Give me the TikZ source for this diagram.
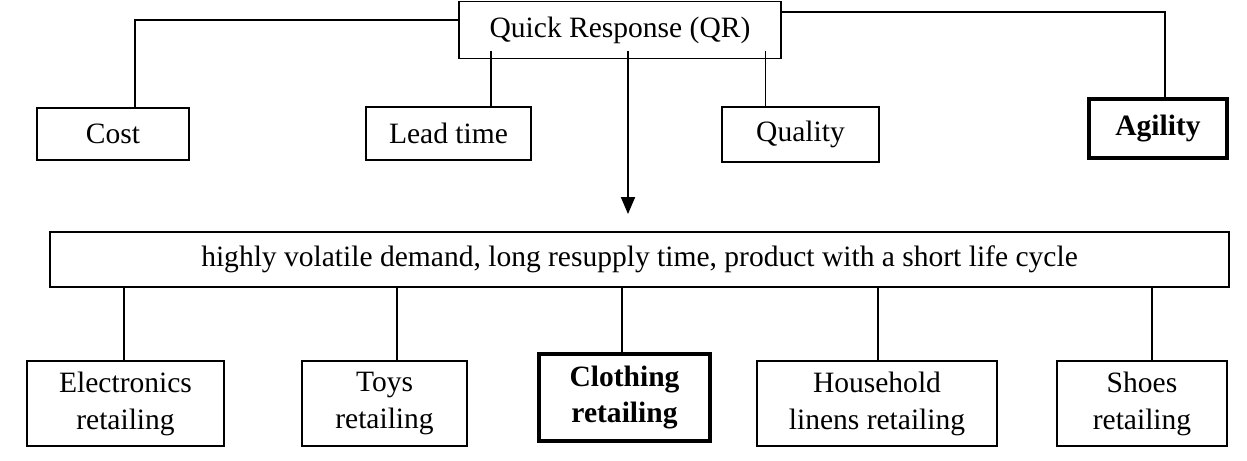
\documentclass[tikz,border=0pt]{standalone}
\usepackage{fontspec}
\setmainfont{Liberation Serif}
\usetikzlibrary{arrows.meta,positioning}

\begin{document}
\begin{tikzpicture}[
    box/.style={draw,line width=1.1pt,align=center,inner sep=2pt,
      font=\fontsize{16.8}{21}\selectfont},
    keybox/.style={box,line width=2.4pt,font=\fontsize{16.8}{21}\selectfont\bfseries},
    link/.style={line width=1.1pt},
    arrow/.style={link,-{Triangle[length=0.34cm,width=0.28cm]},shorten >=0.34cm}
  ]
  \useasboundingbox (0,0) rectangle (24.94,-9.22);

  % Quick Response and its factors
  \node[box,minimum width=6.44cm,minimum height=1.14cm] (qr) at (12.4,-0.6) {Quick Response (QR)};
  \node[box,minimum width=3.04cm,minimum height=1.04cm] (cost) at (2.26,-2.68) {Cost};
  \node[box,minimum width=3.3cm,minimum height=1.06cm] (lead) at (8.97,-2.67) {Lead time};
  \node[box,minimum width=3.14cm,minimum height=1.1cm] (quality) at (16.01,-2.69) {Quality};
  \node[keybox,minimum width=2.76cm,minimum height=1.18cm] (agility) at (23.16,-2.57) {Agility};

  % Conditions
  \node[box,minimum width=23.58cm,minimum height=1.1cm] (cond) at (12.79,-5.19)
    {highly volatile demand, long resupply time, product with a short life cycle};

  % Retailing sectors
  \node[box,minimum width=3.94cm,minimum height=1.7cm] (elec) at (2.51,-8.07) {Electronics\\retailing};
  \node[box,minimum width=3.3cm,minimum height=1.7cm] (toys) at (7.69,-8.07) {Toys\\retailing};
  \node[keybox,minimum width=3.42cm,minimum height=1.74cm] (cloth) at (12.49,-7.95) {Clothing\\retailing};
  \node[box,minimum width=4.8cm,minimum height=1.7cm] (house) at (17.54,-8.07) {Household\\linens retailing};
  \node[box,minimum width=3.4cm,minimum height=1.7cm] (shoes) at (22.84,-8.07) {Shoes\\retailing};

  % QR to factors
  \draw[link] ([yshift=0.2cm]qr.west) -| ([xshift=0.44cm]cost.north);
  \draw[link] ([yshift=0.36cm]qr.east) -| ([xshift=0.14cm]agility.north);
  \draw[link] ([xshift=0.85cm]lead.north) -- ([xshift=0.85cm,yshift=0.16cm]lead.north |- qr.south);
  \draw[link] ([xshift=-0.7cm]quality.north) -- ([xshift=-0.7cm,yshift=0.16cm]quality.north |- qr.south);

  % QR to conditions
  \draw[arrow] ([xshift=0.16cm,yshift=0.16cm]qr.south) -- ([xshift=0.16cm]qr.south |- cond.north);

  % conditions to sectors
  \foreach \n/\dx in {elec/-0.03,toys/0.25,cloth/-0.05,house/0.02,shoes/0.2}
    \draw[link] ([xshift=\dx cm]\n.north) -- ([xshift=\dx cm]\n.north |- cond.south);

\end{tikzpicture}
\end{document}
